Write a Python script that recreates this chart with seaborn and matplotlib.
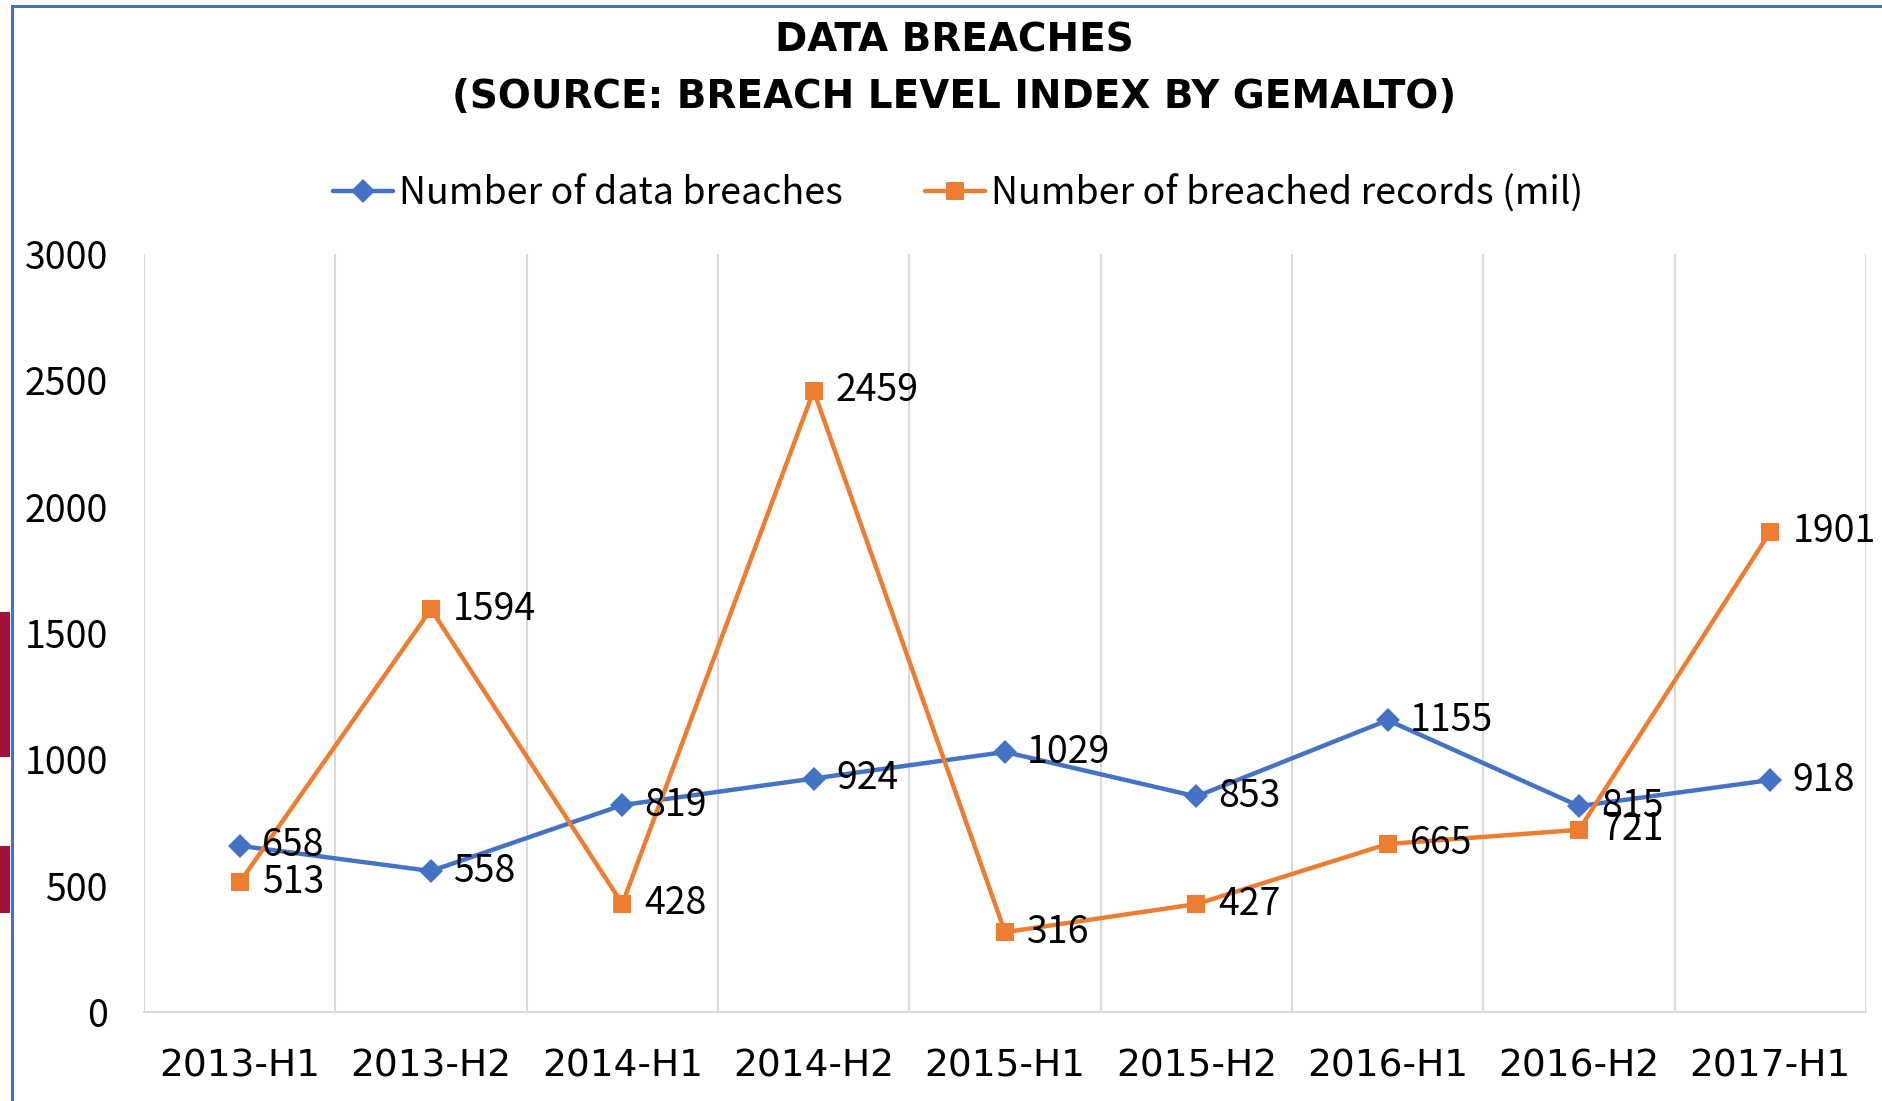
import numpy as np
import pandas as pd
import matplotlib
matplotlib.use("Agg")
import matplotlib.pyplot as plt
import seaborn as sns
from matplotlib.patches import Rectangle

# Data
periods = ["2013-H1", "2013-H2", "2014-H1", "2014-H2", "2015-H1",
           "2015-H2", "2016-H1", "2016-H2", "2017-H1"]
breaches = [658, 558, 819, 924, 1029, 853, 1155, 815, 918]
records = [513, 1594, 428, 2459, 316, 427, 665, 721, 1901]
series_names = ["Number of data breaches", "Number of breached records (mil)"]

sns.set_style("white")
plt.rcParams["font.family"] = ["Noto Sans CJK JP", "DejaVu Sans"]
plt.rcParams["text.color"] = "black"
plt.rcParams["xtick.color"] = "black"
plt.rcParams["ytick.color"] = "black"

BLUE = "#4472C4"
ORANGE = "#ED7D31"
GRID = "#D9D9D9"

W, H = 1882, 1101
fig = plt.figure(figsize=(W / 100, H / 100), dpi=100)
fig.patch.set_facecolor("white")

# plot area in pixel coords
left, right, top, bottom = 144, 1866, 254, 1012
ax = fig.add_axes([left / W, 1 - bottom / H, (right - left) / W, (bottom - top) / H])

x = np.arange(len(periods))
sns.lineplot(x=x, y=breaches, ax=ax, color=BLUE, lw=3.2, marker="D",
             markersize=12, markeredgewidth=0, label=series_names[0])
sns.lineplot(x=x, y=records, ax=ax, color=ORANGE, lw=3.2, marker="s",
             markersize=13, markeredgewidth=0, label=series_names[1])

# data labels, right of each point
for xi, v in zip(x, breaches):
    ax.annotate(str(v), (xi, v), xytext=(16, 0), textcoords="offset points",
                va="center", ha="left", fontsize=27, color="black")
for xi, v in zip(x, records):
    ax.annotate(str(v), (xi, v), xytext=(16, 0), textcoords="offset points",
                va="center", ha="left", fontsize=27, color="black")

ax.set_xlim(-0.5, len(periods) - 0.5)
ax.set_ylim(0, 3000)
ax.set_yticks(np.arange(0, 3001, 500))
ax.set_xticks(x)
ax.set_xticklabels(periods, family="DejaVu Sans")
ax.tick_params(axis="y", labelsize=27, length=0, pad=26)
ax.tick_params(axis="x", labelsize=27, length=0, pad=26)

# vertical category separators
for b in np.arange(-0.5, len(periods), 1.0):
    ax.axvline(b, color=GRID, lw=1.5, zorder=0)

for s in ["top", "right", "left"]:
    ax.spines[s].set_visible(False)
ax.spines["bottom"].set_color(GRID)
ax.spines["bottom"].set_linewidth(1.5)
ax.set_xlabel("")
ax.set_ylabel("")

leg = ax.legend(loc="center", bbox_to_anchor=(958 / W, 1 - 194 / H),
                bbox_transform=fig.transFigure, ncol=2, frameon=False,
                fontsize=27, handlelength=1.6, handletextpad=0.15,
                columnspacing=2.2)

fig.text(954 / W, 1 - 40 / H, "DATA BREACHES", ha="center", va="center",
         fontsize=28, fontweight="bold", family="DejaVu Sans")
fig.text(954 / W, 1 - 97 / H, "(SOURCE: BREACH LEVEL INDEX BY GEMALTO)",
         ha="center", va="center", fontsize=28, fontweight="bold",
         family="DejaVu Sans")

# screenshot frame bits: blue border, red slivers at the left edge
fig.add_artist(Rectangle((11 / W, 0), 3 / W, 1 - 8 / H, transform=fig.transFigure,
                         color=BLUE, lw=0))
fig.add_artist(Rectangle((11 / W, 1 - 8 / H), 1 - 11 / W, 3 / H,
                         transform=fig.transFigure, color=BLUE, lw=0))
fig.add_artist(Rectangle((0, 1 - 757 / H), 10 / W, (757 - 612) / H,
                         transform=fig.transFigure, color="#A50D3A", lw=0))
fig.add_artist(Rectangle((0, 1 - 913 / H), 10 / W, (913 - 846) / H,
                         transform=fig.transFigure, color="#A50D3A", lw=0))

fig.savefig("out.png", dpi=100)
